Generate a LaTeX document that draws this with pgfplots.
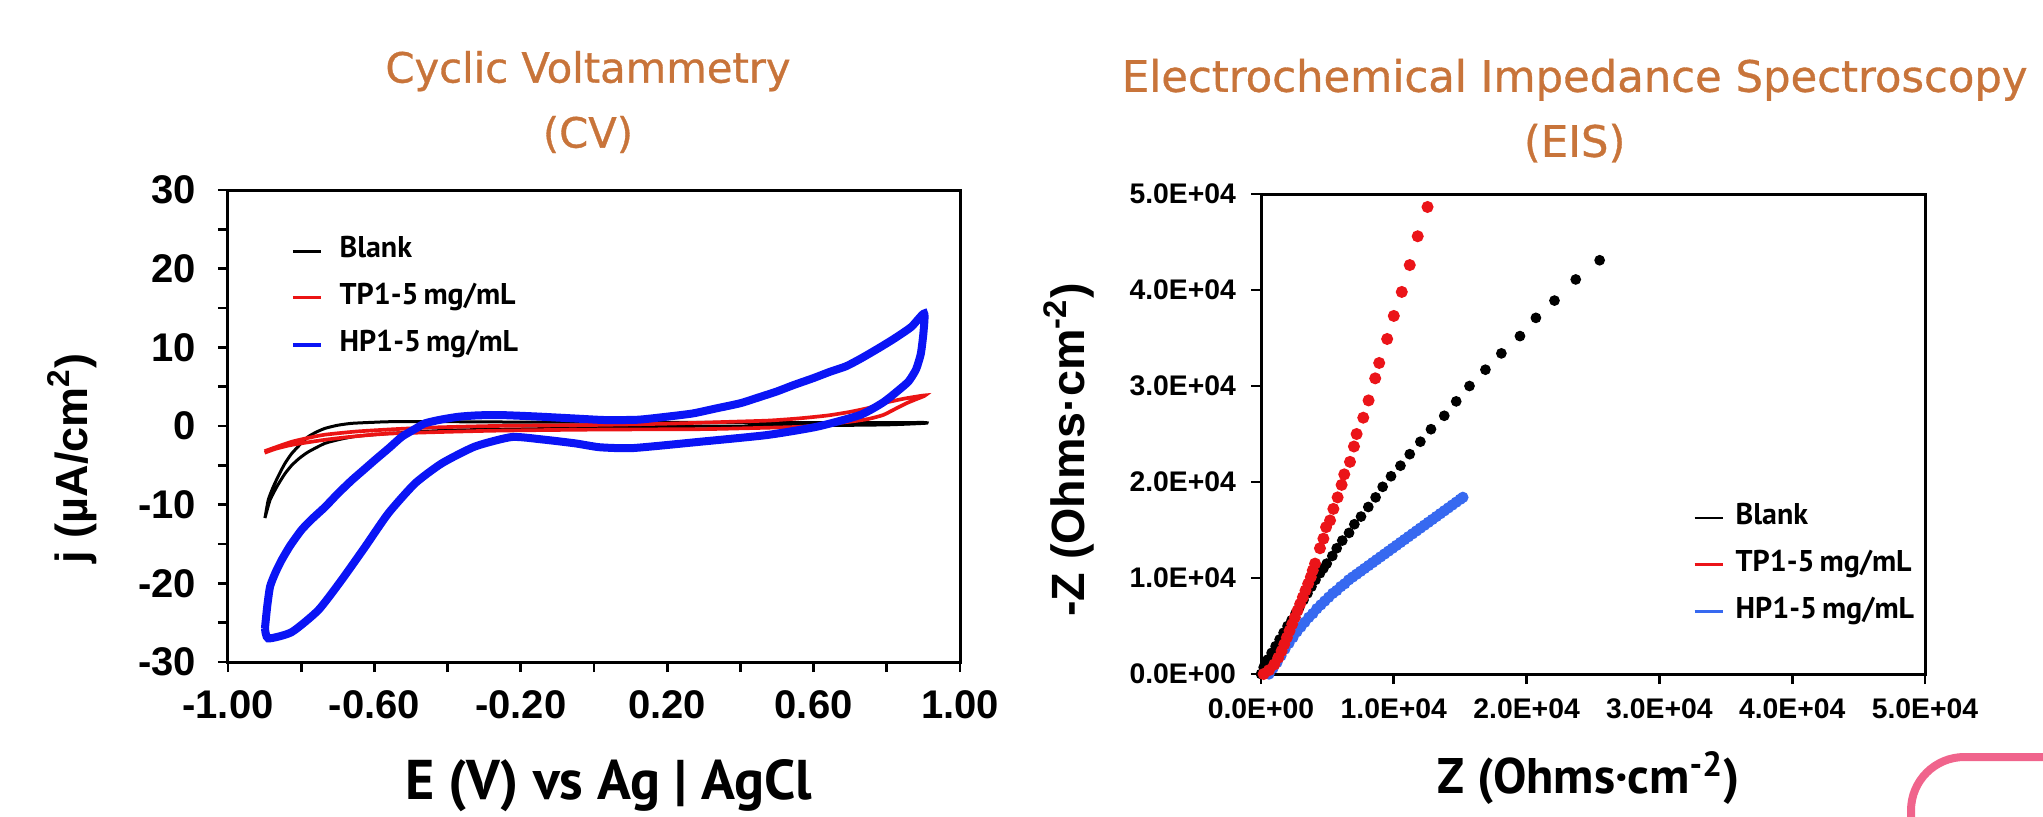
\documentclass[border=0pt]{standalone}
\usepackage{fontspec}
\setmainfont{Liberation Sans}
\newfontfamily\ptsans{PT Sans}
\newfontfamily\dejavu{DejaVu Sans}
\newfontfamily\ttlfont{DejaVu Sans}[FakeBold=0.8]
\usepackage{pgfplots}
\pgfplotsset{compat=1.18}

\definecolor{ttl}{RGB}{200,116,58}
\definecolor{cvred}{RGB}{235,20,20}
\definecolor{cvblue}{RGB}{10,20,245}
\definecolor{eisred}{RGB}{235,20,25}
\definecolor{eisblue}{RGB}{55,105,240}
\definecolor{pinkbox}{RGB}{240,100,140}

\pgfplotsset{
  every axis/.append style={
    scale only axis,
    scaled ticks=false,
    axis line style={line width=0.9pt},
    tick align=outside, tick pos=left,
    major tick length=3pt, minor tick length=3pt,
    every tick/.append style={black, line width=0.8pt},
  },
  leg/.style={
    legend style={draw=none, fill=none, inner sep=0pt, row sep=6pt,
      font=\ptsans\bfseries\fontsize{9}{9}\selectfont,
      nodes={inner sep=0pt, text height=6pt, text depth=2pt}},
    legend cell align=left,
    legend image code/.code={\draw[##1] (0pt,0pt) -- (8.4pt,0pt);},
  },
}

\begin{document}
\begin{tikzpicture}
\path[use as bounding box] (0,0) rectangle (612.9pt,244.8pt);

% titles
\node[font=\ttlfont\fontsize{12.5}{19.5}\selectfont, text=ttl, align=center] at (176.4pt,214.2pt) {Cyclic Voltammetry\\(CV)};
\node[font=\ttlfont\fontsize{13}{19.5}\selectfont, text=ttl, align=center] at (472.4pt,211.6pt) {Electrochemical Impedance Spectroscopy\\(EIS)};

% ---------------- CV ----------------
\begin{axis}[
  at={(68.4pt,46.2pt)}, anchor=south west,
  width=219.6pt, height=141.6pt,
  xmin=-1, xmax=1, ymin=-30, ymax=30,
  xtick={-1,-0.8,-0.6,-0.4,-0.2,0,0.2,0.4,0.6,0.8,1},
  xticklabels={-1.00,,-0.60,,-0.20,,0.20,,0.60,,1.00},
  ytick={-30,-20,-10,0,10,20,30},
  yticklabels={-30,-20,-10,0,10,20,30},
  minor ytick={-25,-15,-5,5,15,25},
  tick label style={font=\bfseries\fontsize{12}{12}\selectfont},
  xticklabel style={yshift=-2pt},
  yticklabel style={xshift=-3pt},
  xlabel={E (V) vs Ag | AgCl},
  xlabel style={at={(axis description cs:0.52,-0.262)}, anchor=center, font=\ptsans\bfseries\fontsize{16.8}{16.8}\selectfont},
  ylabel={j (µA/cm\textsuperscript{2})},
  ylabel style={at={(axis description cs:-0.213,0.432)}, anchor=center, font=\bfseries\fontsize{13.5}{13.5}\selectfont},
  leg,
  legend style={at={(0.085,0.9)}, anchor=north west, column sep=5pt},
]
\addlegendimage{black, line width=0.8pt}
\addlegendentry{Blank}
\addlegendimage{cvred, line width=0.9pt}
\addlegendentry{TP1-5\,mg/mL}
\addlegendimage{cvblue, line width=1.2pt}
\addlegendentry{HP1-5\,mg/mL}

% Blank
\addplot[forget plot, black, line width=0.9pt, smooth, tension=0.35] coordinates {
(-0.899,-11.7) (-0.89,-9.4) (-0.877,-7.8) (-0.863,-6.4) (-0.845,-4.8) (-0.826,-3.5)
(-0.80,-2.2) (-0.781,-1.36) (-0.76,-0.8) (-0.735,-0.3) (-0.70,0.1) (-0.662,0.34)
(-0.60,0.48) (-0.553,0.55) (-0.4,0.55) (-0.2,0.5) (0,0.5) (0.2,0.45) (0.4,0.45)
(0.6,0.42) (0.8,0.42) (0.9,0.45) (0.905,0.35) (0.8,0.15) (0.6,0.05) (0.4,0)
(0.2,-0.05) (0,-0.15) (-0.098,-0.3) (-0.2,-0.38) (-0.37,-0.5) (-0.45,-0.65)
(-0.553,-0.93) (-0.644,-1.27) (-0.69,-1.65) (-0.735,-2.2) (-0.781,-3.3) (-0.805,-4.1)
(-0.826,-5.0) (-0.845,-6.1) (-0.865,-7.6) (-0.885,-9.4) (-0.899,-11.7)};

% TP1-5 mg/mL
\addplot[forget plot, cvred, line width=1.1pt, smooth, tension=0.35] coordinates {
(-0.9,-3.2) (-0.87,-2.7) (-0.826,-2.0) (-0.78,-1.5) (-0.735,-1.1) (-0.65,-0.7)
(-0.553,-0.42) (-0.45,-0.2) (-0.28,0.0) (-0.006,0.13) (0.2,0.3) (0.381,0.55)
(0.48,0.7) (0.563,0.98) (0.64,1.35) (0.7,1.8) (0.75,2.3) (0.79,2.9) (0.85,3.5)
(0.905,3.9) (0.88,3.4) (0.854,2.9) (0.82,2.1) (0.79,1.4) (0.75,0.9) (0.7,0.55)
(0.63,0.2) (0.563,-0.1) (0.4,-0.3) (0.29,-0.4) (0.016,-0.45) (-0.28,-0.6)
(-0.553,-0.95) (-0.65,-1.3) (-0.735,-1.75) (-0.826,-2.4) (-0.87,-2.9) (-0.9,-3.4)};

% HP1-5 mg/mL
\addplot[forget plot, cvblue, line width=2.4pt, smooth, tension=0.35] coordinates {
(-0.899,-25.7) (-0.893,-23.0) (-0.885,-20.4) (-0.87,-18.6) (-0.853,-17.0) (-0.83,-15.2)
(-0.799,-13.2) (-0.77,-11.8) (-0.735,-10.3) (-0.70,-8.6) (-0.662,-6.9) (-0.63,-5.6)
(-0.598,-4.3) (-0.56,-2.8) (-0.525,-1.36) (-0.49,-0.4) (-0.462,0.34) (-0.42,0.8)
(-0.37,1.18) (-0.32,1.35) (-0.262,1.4) (-0.2,1.3) (-0.143,1.18) (-0.05,0.95)
(0.03,0.76) (0.12,0.8) (0.198,1.18) (0.27,1.6) (0.335,2.25) (0.40,2.9) (0.454,3.7)
(0.50,4.4) (0.545,5.2) (0.60,6.1) (0.645,6.9) (0.689,7.6) (0.73,8.6) (0.778,9.9)
(0.82,11.1) (0.867,12.6) (0.902,14.3) (0.90,11.8) (0.893,9.2) (0.88,7.2) (0.86,5.7)
(0.836,4.7) (0.79,3.0) (0.727,1.4) (0.608,-0.1) (0.472,-1.15) (0.29,-2.0)
(0.107,-2.8) (0.016,-2.7) (-0.052,-2.2) (-0.143,-1.7) (-0.225,-1.4) (-0.325,-2.6)
(-0.416,-4.75) (-0.489,-7.3) (-0.562,-11.1) (-0.626,-15.4) (-0.69,-19.6)
(-0.753,-23.4) (-0.826,-26.2) (-0.89,-27.0) (-0.899,-25.7)};
\end{axis}

% ---------------- EIS ----------------
\begin{axis}[
  at={(378.3pt,42.6pt)}, anchor=south west,
  width=199.2pt, height=144pt,
  xmin=0, xmax=50000, ymin=0, ymax=50000,
  xtick={0,10000,20000,30000,40000,50000},
  xticklabels={0.0E+00,1.0E+04,2.0E+04,3.0E+04,4.0E+04,5.0E+04},
  ytick={0,10000,20000,30000,40000,50000},
  yticklabels={0.0E+00,1.0E+04,2.0E+04,3.0E+04,4.0E+04,5.0E+04},
  tick label style={font=\bfseries\fontsize{8.5}{8.5}\selectfont},
  xticklabel style={yshift=-1pt},
  yticklabel style={xshift=-1pt},
  xlabel={Z (Ohms·cm\textsuperscript{-2})},
  xlabel style={at={(axis description cs:0.494,-0.217)}, anchor=center, font=\ptsans\bfseries\fontsize{15}{15}\selectfont},
  ylabel={-Z (Ohms·cm\textsuperscript{-2})},
  ylabel style={at={(axis description cs:-0.289,0.467)}, anchor=center, font=\bfseries\fontsize{14}{14}\selectfont},
  clip=false,
  leg,
  legend style={at={(0.65,0.354)}, anchor=north west, column sep=3.5pt},
]
\addlegendimage{black, line width=0.8pt}
\addlegendentry{Blank}
\addlegendimage{eisred, line width=0.8pt}
\addlegendentry{TP1-5\,mg/mL}
\addlegendimage{eisblue, line width=0.8pt}
\addlegendentry{HP1-5\,mg/mL}

% HP1-5 mg/mL
\addplot[forget plot, only marks, mark=*, mark size=1.5pt, eisblue, mark options={draw=eisblue, fill=eisblue}] coordinates {
(600,0) (900,600) (1200,1200) (1500,1900) (1800,2600) (2100,3200) (2400,3800)
(2700,4400) (3000,4900) (3300,5400) (3600,5900) (3900,6300) (4200,6800) (4500,7200)
(4800,7600) (5100,8000) (5400,8400) (5700,8700) (6000,9100) (6300,9400) (6600,9800)
(6900,10100) (7200,10400) (7500,10700) (7800,11000) (8100,11300) (8400,11600)
(8700,11900) (9000,12200) (9300,12500) (9600,12800) (9900,13100) (10200,13400)
(10500,13700) (10800,14000) (11100,14300) (11400,14600) (11700,14900) (12000,15200)
(12300,15500) (12600,15800) (12900,16100) (13200,16400) (13500,16700) (13800,17000)
(14100,17300) (14400,17600) (14700,17900) (15000,18200) (15200,18400)};

% Blank
\addplot[forget plot, only marks, mark=*, mark size=1.4pt, black] coordinates {
(0,0) (200,700) (500,1500) (800,2200) (1100,2900) (1400,3600) (1700,4300) (2000,5000)
(2300,5600) (2600,6300) (2900,7000) (3200,7700) (3500,8400) (3800,9100) (4100,9800)
(4440,10500) (4700,11000) (4950,11500) (5370,12300) (5700,13100) (6120,13900)
(6630,14700) (7030,15600) (7530,16400) (8080,17400) (8630,18400) (9160,19500)
(9790,20600) (10500,21700) (11200,22900) (12000,24200) (12800,25500) (13800,26900)
(14700,28400) (15700,30000) (16900,31700) (18100,33400) (19500,35200) (20700,37100)
(22100,38900) (23700,41100) (25500,43100)};

% TP1-5 mg/mL
\addplot[forget plot, only marks, mark=*, mark size=1.6pt, eisred] coordinates {
(200,0) (600,400) (1000,1000) (1300,1700) (1550,2400) (1750,3100) (1950,3800)
(2150,4500) (2350,5200) (2550,5900) (2750,6600) (2950,7300) (3150,8000) (3350,8700)
(3550,9400) (3750,10100) (3900,10800) (4070,11500) (4440,13100) (4700,14100)
(4900,15300) (5200,16000) (5450,17200) (5770,18400) (6070,19700) (6270,20800)
(6700,22100) (7000,23700) (7200,25000) (7700,26700) (8100,28500) (8600,30800)
(8900,32400) (9500,34900) (10000,37300) (10600,39800) (11200,42600) (11800,45600)
(12540,48650)};
\end{axis}

% decorative box corner
\draw[pinkbox, line width=2.4pt, rounded corners=16pt] (573.3pt,-30pt) rectangle (700pt,17.7pt);
\end{tikzpicture}
\end{document}
